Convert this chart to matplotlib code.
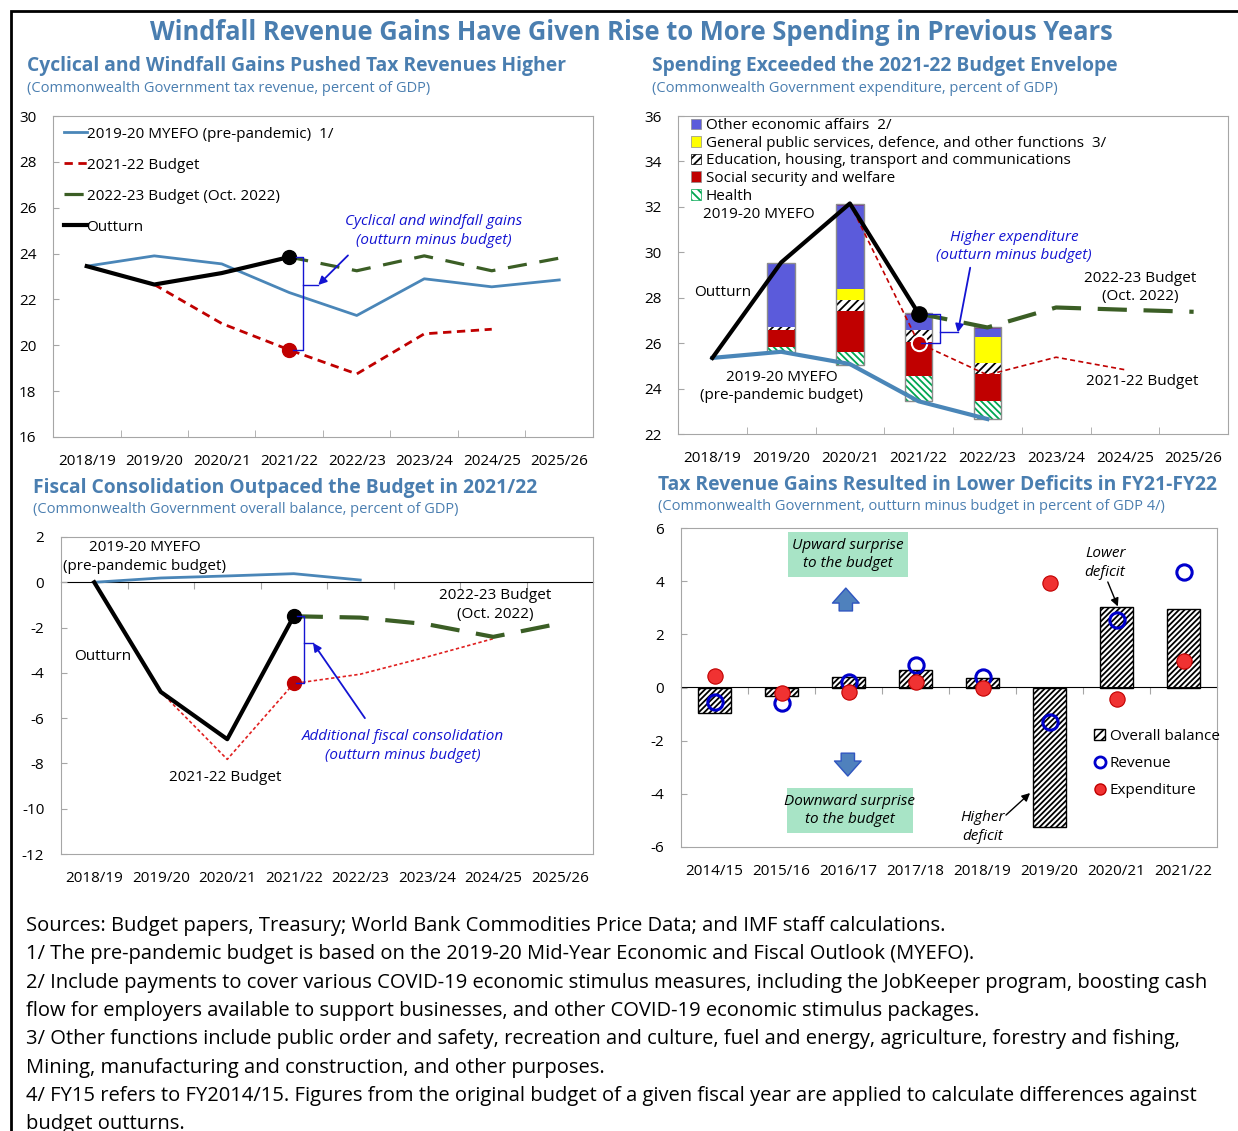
import matplotlib
matplotlib.use("Agg")
import matplotlib.pyplot as plt
from matplotlib.patches import Patch, Rectangle, FancyArrowPatch
from matplotlib.lines import Line2D

plt.rcParams['font.family'] = ['Open Sans', 'DejaVu Sans']
plt.rcParams['hatch.linewidth'] = 1.3

W, H = 1238, 1131

# ---------------- data ----------------
years = ['2018/19', '2019/20', '2020/21', '2021/22', '2022/23', '2023/24', '2024/25', '2025/26']

# panel 1: tax revenue, % of GDP
rev_myefo = [23.45, 23.9, 23.55, 22.3, 21.3, 22.9, 22.55, 22.85]
rev_outturn = [23.45, 22.65, 23.15, 23.85]
rev_bud22 = [None, 22.65, 20.95, 19.8, 18.75, 20.5, 20.7]
rev_bud23 = [None, None, None, 23.85, 23.25, 23.9, 23.25, 23.8]

# panel 2: expenditure, % of GDP
exp_myefo = [25.35, 25.62, 25.08, 23.44, 22.66]
exp_outturn = [25.35, 29.55, 32.15, 27.3]
exp_bud22 = [None, None, 32.15, 26.0, 24.6, 25.38, 24.83]
exp_bud23 = [None, None, None, 27.3, 26.69, 27.57, 27.47, 27.38]
bar_years = [1, 2, 3, 4]
bar_base = [25.63, 25.05, 23.44, 22.66]
health = [0.19, 0.55, 1.13, 0.81]
social = [0.77, 1.82, 1.47, 1.15]
educ = [0.10, 0.47, 0.53, 0.50]
general = [0.0, 0.51, 0.0, 1.17]
other_econ = [2.82, 3.62, 0.67, 0.32]
top_misc = [0.0, 0.10, 0.08, 0.08]

# panel 3: overall balance, % of GDP
bal_myefo = [0.0, 0.19, 0.28, 0.38, 0.1]
bal_outturn = [0.0, -4.84, -6.93, -1.5]
bal_bud22 = [None, -4.84, -7.82, -4.47, -4.06, -3.3, -2.49]
bal_bud23 = [None, None, None, -1.5, -1.56, -1.85, -2.41, -1.82]

# panel 4: outturn minus budget, % of GDP
years4 = ['2014/15', '2015/16', '2016/17', '2017/18', '2018/19', '2019/20', '2020/21', '2021/22']
overall = [-0.97, -0.31, 0.38, 0.65, 0.35, -5.25, 3.01, 2.96]
revenue = [-0.56, -0.6, 0.22, 0.85, 0.38, -1.31, 2.54, 4.34]
expend = [0.42, -0.22, -0.18, 0.22, -0.01, 3.94, -0.45, 1.0]

# ---------------- style ----------------
TBLUE = '#4A7EB0'
LBLUE = '#4A86B8'
RED = '#C00000'
GREEN = '#3B5E25'
ABLUE = '#1414D2'
GRAY = '#A6A6A6'
FS = 11
TFS = 13.9

fig = plt.figure(figsize=(W / 100, H / 100), dpi=100)


def add_ax(l, r, t, b):
    return fig.add_axes([l / W, 1 - b / H, (r - l) / W, (b - t) / H])


def ftext(x, y, s, **kw):
    fig.text(x / W, 1 - y / H, s, **kw)


def style_ax(ax, labels, ylim, yticks, zero_frac=None):
    ax.set_xlim(-0.5, 7.5)
    ax.set_ylim(*ylim)
    ax.set_yticks(yticks)
    ax.set_yticklabels([str(v) for v in yticks], fontsize=FS)
    for s in ax.spines.values():
        s.set_color(GRAY)
    ax.tick_params(axis='y', direction='in', length=4, color=GRAY, pad=12)
    ax.set_xticks(range(8))
    ax.set_xticklabels(labels, fontsize=FS)
    ax.set_xticks([i + 0.5 for i in range(7)], minor=True)
    if zero_frac is None:
        ax.tick_params(axis='x', which='major', length=0, pad=12)
        ax.tick_params(axis='x', which='minor', direction='in', length=5, color=GRAY)
    else:
        ax.tick_params(axis='x', which='both', length=0, pad=12)
        sec = ax.secondary_xaxis(zero_frac)
        sec.set_xticks([i + 0.5 for i in range(7)])
        sec.set_xticklabels([])
        sec.tick_params(direction='in', length=5, color=GRAY)
        sec.spines['bottom'].set_color(GRAY)
        sec.spines['bottom'].set_linewidth(1.2)


def bracket(ax, xl_top, xl_bot, xv, xn, ytop, ybot, ynub):
    ax.plot([xl_top, xv, xv, xl_bot], [ytop, ytop, ybot, ybot], color=ABLUE, lw=1, zorder=6)
    ax.plot([xv, xn], [ynub, ynub], color=ABLUE, lw=1, zorder=6)


def arrow(ax, xy_from, xy_to, color=ABLUE, lw=1.3):
    ax.annotate('', xy=xy_to, xytext=xy_from,
                arrowprops=dict(arrowstyle='-|>', color=color, lw=lw, mutation_scale=12,
                                shrinkA=0, shrinkB=0), zorder=7)


def idx(vals):
    xs = [i for i, v in enumerate(vals) if v is not None]
    return xs, [vals[i] for i in xs]


# ---------------- titles ----------------
ftext(631, 32, 'Windfall Revenue Gains Have Given Rise to More Spending in Previous Years',
      ha='center', va='center', fontsize=18.4, fontweight='bold', color=TBLUE)
ftext(27, 66, 'Cyclical and Windfall Gains Pushed Tax Revenues Higher',
      va='center', fontsize=TFS, fontweight='bold', color=TBLUE)
ftext(27, 88, '(Commonwealth Government tax revenue, percent of GDP)',
      va='center', fontsize=10.5, color=TBLUE)
ftext(652, 66, 'Spending Exceeded the 2021-22 Budget Envelope',
      va='center', fontsize=TFS, fontweight='bold', color=TBLUE)
ftext(652, 88, '(Commonwealth Government expenditure, percent of GDP)',
      va='center', fontsize=10.5, color=TBLUE)
ftext(33, 488, 'Fiscal Consolidation Outpaced the Budget in 2021/22',
      va='center', fontsize=TFS, fontweight='bold', color=TBLUE)
ftext(33, 510, '(Commonwealth Government overall balance, percent of GDP)',
      va='center', fontsize=10.5, color=TBLUE)
ftext(658, 485, 'Tax Revenue Gains Resulted in Lower Deficits in FY21-FY22',
      va='center', fontsize=TFS, fontweight='bold', color=TBLUE)
ftext(658, 507, '(Commonwealth Government, outturn minus budget in percent of GDP 4/)',
      va='center', fontsize=10.5, color=TBLUE)

# ---------------- panel 1 ----------------
ax1 = add_ax(53, 593, 116, 437)
style_ax(ax1, years, (16, 30), list(range(16, 31, 2)))
x, y = idx(rev_myefo)
ax1.plot(x, y, color=LBLUE, lw=2, label='2019-20 MYEFO (pre-pandemic)  1/')
x, y = idx(rev_bud22)
ax1.plot(x, y, color=RED, lw=2, ls=(0, (3, 2)), label='2021-22 Budget')
x, y = idx(rev_bud23)
ax1.plot(x, y, color=GREEN, lw=2.3, ls=(0, (6, 4)), label='2022-23 Budget (Oct. 2022)')
x, y = idx(rev_outturn)
ax1.plot(x, y, color='black', lw=3, label='Outturn')
ax1.plot([3], [rev_outturn[3]], 'o', color='black', ms=10, zorder=5)
ax1.plot([3], [rev_bud22[3]], 'o', color=RED, ms=10, zorder=5)
ax1.legend(loc='upper left', frameon=False, fontsize=FS, handlelength=1.5, handletextpad=0.0,
           labelspacing=1.05, borderaxespad=0.3, bbox_to_anchor=(0.0, 1.0))
bracket(ax1, 3.1, 3.05, 3.2, 3.43, rev_outturn[3], rev_bud22[3], 22.63)
arrow(ax1, (3.87, 23.92), (3.43, 22.63))
ax1.text(5.14, 24.98, 'Cyclical and windfall gains\n(outturn minus budget)', ha='center', va='center',
         fontsize=FS, style='italic', color=ABLUE, linespacing=1.3)

# ---------------- panel 2 ----------------
ax2 = add_ax(678, 1228, 116, 434)
style_ax(ax2, years, (22, 36), list(range(22, 37, 2)))
bw = 0.4
bottom = list(bar_base)
segs = [
    (health, dict(color='white', edgecolor='#00A651', hatch='\\\\\\\\\\', lw=0)),
    (social, dict(color=RED, lw=0)),
    (educ, dict(color='white', edgecolor='black', hatch='////', lw=0)),
    (general, dict(color='#FFFF00', lw=0)),
    (other_econ, dict(color='#5B5BDB', lw=0)),
    (top_misc, dict(color='#7030A0', lw=0)),
]
for vals, kw in segs:
    ax2.bar(bar_years, vals, bw, bottom=bottom, zorder=2, **kw)
    bottom = [b + v for b, v in zip(bottom, vals)]
ax2.bar(bar_years, [t - b for t, b in zip(bottom, bar_base)], bw, bottom=bar_base,
        fill=False, edgecolor='#8C8C8C', lw=1, zorder=3)
x, y = idx(exp_myefo)
ax2.plot(x, y, color=LBLUE, lw=3, zorder=4)
x, y = idx(exp_bud22)
ax2.plot(x, y, color=RED, lw=1.2, ls=(0, (3, 2)), zorder=4)
x, y = idx(exp_bud23)
ax2.plot(x, y, color=GREEN, lw=3, ls=(0, (7, 4)), zorder=4)
x, y = idx(exp_outturn)
ax2.plot(x, y, color='black', lw=3, zorder=5)
ax2.plot([3], [exp_outturn[3]], 'o', color='black', ms=11, zorder=6)
ax2.plot([3], [exp_bud22[3]], 'o', color=RED, mec='white', mew=1.5, ms=11, zorder=6)
h2 = [Patch(facecolor='#5B5BDB', edgecolor='#8C8C8C', lw=0.5),
      Patch(facecolor='#FFFF00', edgecolor='#8C8C8C', lw=0.5),
      Patch(facecolor='white', edgecolor='black', hatch='////', lw=0.5),
      Patch(facecolor=RED, edgecolor='#8C8C8C', lw=0.5),
      Patch(facecolor='white', edgecolor='#00A651', hatch='\\\\\\\\', lw=0.5)]
l2 = ['Other economic affairs  2/', 'General public services, defence, and other functions  3/',
      'Education, housing, transport and communications', 'Social security and welfare', 'Health']
ax2.legend(h2, l2, loc='upper left', frameon=False, fontsize=FS, handlelength=0.7, handleheight=0.7,
           handletextpad=0.3, labelspacing=0.17, borderaxespad=0.0, bbox_to_anchor=(0.012, 1.012))
ax2.text(-0.14, 31.66, '2019-20 MYEFO', va='center', fontsize=FS)
ax2.text(-0.27, 28.22, 'Outturn', va='center', fontsize=FS)
ax2.text(1.01, 24.09, '2019-20 MYEFO\n(pre-pandemic budget)', ha='center', va='center', fontsize=FS,
         linespacing=1.3)
ax2.text(6.23, 28.44, '2022-23 Budget\n(Oct. 2022)', ha='center', va='center', fontsize=FS, linespacing=1.3)
ax2.text(6.26, 24.31, '2021-22 Budget', ha='center', va='center', fontsize=FS)
ax2.text(4.39, 30.24, 'Higher expenditure\n(outturn minus budget)', ha='center', va='center',
         fontsize=FS, style='italic', color=ABLUE, linespacing=1.3)
bracket(ax2, 3.14, 3.03, 3.31, 3.57, exp_outturn[3], exp_bud22[3], 26.47)
arrow(ax2, (3.75, 29.32), (3.57, 26.47))

# ---------------- panel 3 ----------------
ax3 = add_ax(61, 593, 537, 854)
style_ax(ax3, years, (-12, 2), list(range(-12, 3, 2)), zero_frac=12 / 14)
x, y = idx(bal_myefo)
ax3.plot(x, y, color=LBLUE, lw=2, zorder=4)
x, y = idx(bal_bud22)
ax3.plot(x, y, color='#E02020', lw=1.2, ls=(0, (2, 1.5)), zorder=4)
x, y = idx(bal_bud23)
ax3.plot(x, y, color=GREEN, lw=3, ls=(0, (7, 4)), zorder=4)
x, y = idx(bal_outturn)
ax3.plot(x, y, color='black', lw=3, zorder=5)
ax3.plot([3], [bal_outturn[3]], 'o', color='black', ms=10, zorder=6)
ax3.plot([3], [bal_bud22[3]], 'o', color=RED, ms=10, zorder=6)
ax3.text(0.76, 1.12, '2019-20 MYEFO\n(pre-pandemic budget)', ha='center', va='center', fontsize=FS,
         linespacing=1.3)
ax3.text(-0.30, -3.26, 'Outturn', va='center', fontsize=FS)
ax3.text(1.97, -8.64, '2021-22 Budget', ha='center', va='center', fontsize=FS)
ax3.text(6.03, -1.0, '2022-23 Budget\n(Oct. 2022)', ha='center', va='center', fontsize=FS, linespacing=1.3)
ax3.text(4.64, -7.23, 'Additional fiscal consolidation\n(outturn minus budget)', ha='center', va='center',
         fontsize=FS, style='italic', color=ABLUE, linespacing=1.3)
bracket(ax3, 3.05, 3.03, 3.15, 3.29, bal_outturn[3], bal_bud22[3], -2.68)
arrow(ax3, (4.07, -6.0), (3.29, -2.68))

# ---------------- panel 4 ----------------
ax4 = add_ax(681, 1217, 528, 847)
style_ax(ax4, years4, (-6, 6), list(range(-6, 7, 2)), zero_frac=0.5)
ax4.bar(range(8), overall, 0.5, color='none', edgecolor='black', hatch='//////', lw=1, zorder=2)
ax4.plot(range(8), expend, 'o', color='#F03232', mec='#C00000', mew=0.8, ms=11, zorder=4)
ax4.plot(range(8), revenue, 'o', mfc='none', mec='#0000CC', mew=2.2, ms=11, zorder=3)
ax4.add_patch(Rectangle((1.10, 4.16), 1.79, 1.69, color='#A8E4C6', lw=0, zorder=1))
ax4.add_patch(Rectangle((1.08, -5.47), 1.88, 1.69, color='#A8E4C6', lw=0, zorder=1))
ax4.text(1.99, 5.0, 'Upward surprise\nto the budget', ha='center', va='center', fontsize=FS,
         style='italic', linespacing=1.3, zorder=2)
ax4.text(2.02, -4.62, 'Downward surprise\nto the budget', ha='center', va='center', fontsize=FS,
         style='italic', linespacing=1.3, zorder=2)
for (y0, y1, xx) in [(2.88, 3.74, 1.96), (-2.47, -3.33, 1.99)]:
    ax4.add_patch(FancyArrowPatch((xx, y0), (xx, y1),
                                  arrowstyle='simple,head_width=1.6,head_length=0.9,tail_width=0.8',
                                  mutation_scale=12, fc='#4F81BD', ec='#2F55C0', lw=1,
                                  shrinkA=0, shrinkB=0, zorder=3))
ax4.text(5.83, 4.68, 'Lower\ndeficit', ha='center', va='center', fontsize=FS, style='italic', linespacing=1.3)
arrow(ax4, (5.87, 3.97), (6.02, 3.05), color='black', lw=1)
ax4.text(4.0, -5.25, 'Higher\ndeficit', ha='center', va='center', fontsize=FS, style='italic', linespacing=1.3)
arrow(ax4, (4.35, -4.8), (4.71, -3.97), color='black', lw=1)
h4 = [Patch(facecolor='white', edgecolor='black', hatch='////', lw=1),
      Line2D([], [], marker='o', ls='none', mfc='none', mec='#0000CC', mew=2, ms=8),
      Line2D([], [], marker='o', ls='none', color='#F03232', mec='#C00000', ms=8)]
ax4.legend(h4, ['Overall balance', 'Revenue', 'Expenditure'], loc='upper left', frameon=False,
           fontsize=FS, handlelength=0.7, handleheight=0.7, handletextpad=0.3, labelspacing=0.8,
           bbox_to_anchor=(0.76, 0.39), borderaxespad=0)

# ---------------- notes ----------------
notes = [
    'Sources: Budget papers, Treasury; World Bank Commodities Price Data; and IMF staff calculations.',
    '1/ The pre-pandemic budget is based on the 2019-20 Mid-Year Economic and Fiscal Outlook (MYEFO).',
    '2/ Include payments to cover various COVID-19 economic stimulus measures, including the JobKeeper program, boosting cash',
    'flow for employers available to support businesses, and other COVID-19 economic stimulus packages.',
    '3/ Other functions include public order and safety, recreation and culture, fuel and energy, agriculture, forestry and fishing,',
    'Mining, manufacturing and construction, and other purposes.',
    '4/ FY15 refers to FY2014/15. Figures from the original budget of a given fiscal year are applied to calculate differences against',
    'budget outturns.',
]
for i, line in enumerate(notes):
    ftext(26, 926 + i * 28.3, line, va='center', fontsize=14.5, color='black')

fig.add_artist(Rectangle((11 / W, -0.05), 1.2, 1 - 11 / H + 0.05, transform=fig.transFigure,
                         fill=False, ec='black', lw=2, clip_on=False))

fig.savefig('out.png', dpi=100)
